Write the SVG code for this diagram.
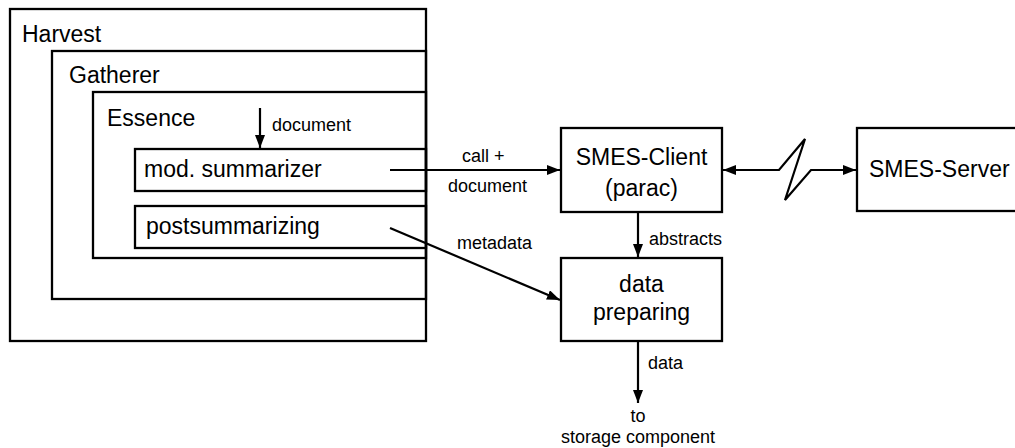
<svg xmlns="http://www.w3.org/2000/svg" width="1015" height="448" viewBox="0 0 1015 448">
<style>
.box{fill:none;stroke:#000;stroke-width:2.3}
.big{font-family:"Liberation Sans",Arial,sans-serif;font-size:23px;fill:#000}
.sm{font-family:"Liberation Sans",Arial,sans-serif;font-size:18px;fill:#000}
.ln{fill:none;stroke:#000;stroke-width:2.2}
</style>
<defs>
<marker id="ah" markerWidth="13" markerHeight="10" refX="13" refY="5" orient="auto" markerUnits="userSpaceOnUse">
<path d="M0,0 L13,5 L0,10 Z" fill="#000"/>
</marker>
<marker id="ahs" markerWidth="13" markerHeight="10" refX="0" refY="5" orient="auto" markerUnits="userSpaceOnUse">
<path d="M13,0 L0,5 L13,10 Z" fill="#000"/>
</marker>
</defs>
<rect width="1015" height="448" fill="#fff"/>
<g id="harvest"><rect class="box" x="10" y="9" width="416" height="332"/><text class="big" x="22" y="42">Harvest</text></g>
<g id="gatherer"><rect class="box" x="52" y="51" width="374" height="248"/><text class="big" x="69" y="83">Gatherer</text></g>
<g id="essence"><rect class="box" x="93" y="92" width="333" height="166"/><text class="big" x="107" y="126">Essence</text></g>
<g id="modsummarizer"><rect class="box" x="135" y="149" width="291" height="42"/><text class="big" x="144" y="177">mod. summarizer</text></g>
<g id="postsummarizing"><rect class="box" x="135" y="206" width="291" height="42"/><text class="big" x="146" y="234">postsummarizing</text></g>
<g id="smesclient"><rect class="box" x="561" y="128" width="161" height="84"/><text class="big" x="641.5" y="165" text-anchor="middle">SMES-Client</text><text class="big" x="641.5" y="196" text-anchor="middle">(parac)</text></g>
<g id="smesserver"><rect class="box" x="857" y="128" width="170" height="83"/><text class="big" x="869" y="177">SMES-Server</text></g>
<g id="datapreparing"><rect class="box" x="561" y="258" width="161" height="83"/><text class="big" x="641.5" y="292" text-anchor="middle">data</text><text class="big" x="641.5" y="320" text-anchor="middle">preparing</text></g>
<g id="storage"><text class="sm" x="638" y="422" text-anchor="middle">to</text><text class="sm" x="638" y="443" text-anchor="middle">storage component</text></g>
<g id="connectors">
<line class="ln" x1="260" y1="108" x2="260" y2="148" marker-end="url(#ah)"/>
<text class="sm" x="272" y="131">document</text>
<line class="ln" x1="390" y1="170" x2="560" y2="170" marker-end="url(#ah)"/>
<text class="sm" x="462" y="162">call +</text>
<text class="sm" x="448" y="192">document</text>
<line class="ln" x1="390" y1="228" x2="560" y2="300" marker-end="url(#ah)"/>
<text class="sm" x="457" y="249">metadata</text>
<line class="ln" x1="638" y1="212" x2="638" y2="257" marker-end="url(#ah)"/>
<text class="sm" x="649" y="245">abstracts</text>
<line class="ln" x1="638" y1="341" x2="638" y2="403" marker-end="url(#ah)"/>
<text class="sm" x="648" y="369">data</text>
<polyline class="ln" points="723,170 779,170 805,139 785,200 811,170 856,170" marker-start="url(#ahs)" marker-end="url(#ah)"/>
</g>
</svg>
